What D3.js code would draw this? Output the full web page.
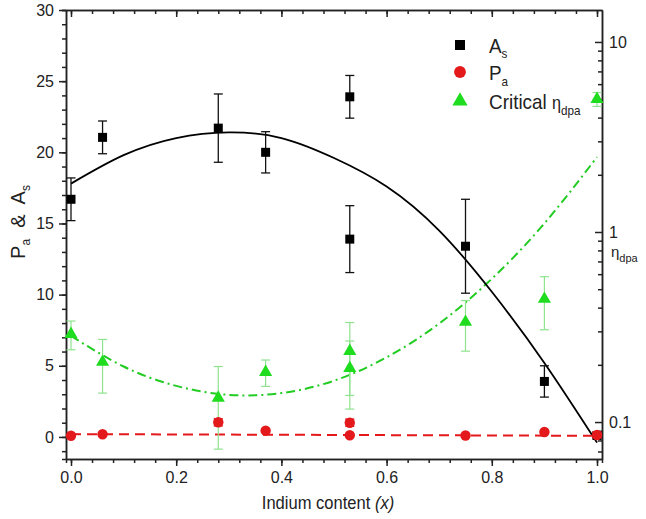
<!DOCTYPE html>
<html>
<head>
<meta charset="utf-8">
<script src="https://cdn.jsdelivr.net/npm/d3@7"></script>
<style>
  body { margin: 0; background: #fff; }
  text { font-family: "Liberation Sans", Arial, sans-serif; }
</style>
</head>
<body>
<svg id="chart"></svg>
<script>
// indium content of each sample
const indium = [0, 0.06, 0.28, 0.37, 0.53, 0.53, 0.75, 0.9, 1.0];
// A_s (left axis)
const asVals = [16.7, 21.05, 21.7, 20.0, 23.9, 13.9, 13.4, 3.9, 0.1];
const asErr  = [1.5, 1.15, 2.4, 1.45, 1.5, 2.35, 3.3, 1.1, 0.2];
// P_a (left axis)
const paVals = [0.08, 0.19, 1.03, 0.44, 1.0, 0.12, 0.1, 0.35, 0.14];
const paErr  = [0, 0, 0.25, 0, 0.25, 0, 0, 0, 0.2];
// critical eta_dpa (right log axis)
const etaVals = [0.29, 0.207, 0.134, 0.183, 0.236, 0.192, 0.336, 0.444, 5.0];
const etaErr  = [0.05, 0.065, 0.062, 0.029, 0.098, 0.075, 0.10, 0.138, 0.42];

// fitted curves
const fitX   = [0, 0.1, 0.2, 0.3, 0.4, 0.5, 0.6, 0.7, 0.8, 0.9, 1.0];
const asFit  = [17.8, 19.8, 21.0, 21.4, 21.0, 19.6, 17.6, 14.5, 10.2, 5.2, -0.4];
const etaFit = [0.284, 0.196, 0.155, 0.139, 0.142, 0.165, 0.219, 0.330, 0.567, 1.11, 2.48];
const paFitX = [0, 1.0];
const paFit  = [0.2, 0.08];

const leftTicks = [0, 5, 10, 15, 20, 25, 30];
const bottomTicks = [0, 0.2, 0.4, 0.6, 0.8, 1.0];
const rightTicks = [0.1, 1, 10];

const width = 646, height = 519;
const svg = d3.select("#chart").attr("width", width).attr("height", height);

const x  = d3.scaleLinear([-0.0095, 1.0095], [66, 602]);
const y  = d3.scaleLinear([-1.55, 30], [459, 10]);
const yr = d3.scaleLog([0.0639, 14.73], [459, 10]);

const ink = "#222";
const style = g => {
  g.selectAll("path, line").attr("stroke", ink).attr("stroke-width", 1.5);
  g.selectAll("text").attr("font-size", 16).attr("fill", ink)
   .attr("font-family", "Liberation Sans, Arial, sans-serif");
};

// minor ticks
const minorX = d3.range(0, 26).map(i => i * 0.04);
const minorY = d3.range(-1, 31);
const minorR = [];
[0.01, 0.1, 1].forEach(d => d3.range(2, 10).forEach(k => {
  const v = d * k;
  if (v >= 0.0639 && v <= 14.73) minorR.push(v);
}));

svg.append("g").attr("transform", "translate(0,459)")
   .call(d3.axisBottom(x).tickValues(minorX).tickSize(4).tickFormat(""))
   .call(style);
svg.append("g").attr("transform", "translate(0,459)")
   .call(d3.axisBottom(x).tickValues(bottomTicks).tickSizeInner(7).tickSizeOuter(0)
         .tickPadding(6).tickFormat(d3.format(".1f")))
   .call(style);

svg.append("g").attr("transform", "translate(0,10)")
   .call(d3.axisTop(x).tickValues(minorX).tickSizeInner(-4).tickSizeOuter(0).tickFormat(""))
   .call(style);
svg.append("g").attr("transform", "translate(0,10)")
   .call(d3.axisTop(x).tickValues(bottomTicks).tickSizeInner(-7).tickSizeOuter(0).tickFormat(""))
   .call(style);

svg.append("g").attr("transform", "translate(66,0)")
   .call(d3.axisLeft(y).tickValues(minorY).tickSize(4).tickFormat(""))
   .call(style);
svg.append("g").attr("transform", "translate(66,0)")
   .call(d3.axisLeft(y).tickValues(leftTicks).tickSizeInner(7).tickSizeOuter(0).tickPadding(5))
   .call(style);

svg.append("g").attr("transform", "translate(602,0)")
   .call(d3.axisRight(yr).tickValues(minorR).tickSizeInner(-4).tickSizeOuter(0).tickFormat(""))
   .call(style);
svg.append("g").attr("transform", "translate(602,0)")
   .call(d3.axisRight(yr).tickValues(rightTicks).tickSizeInner(-7).tickSizeOuter(0)
         .tickPadding(7).tickFormat(d => String(d)))
   .call(style);

// fits
const green = "#1fdc1f", red = "#e3191c";
svg.append("path")
   .datum(fitX.map((v, i) => [v, etaFit[i]]))
   .attr("fill", "none").attr("stroke", "#22cc22").attr("stroke-width", 2)
   .attr("stroke-dasharray", "9,4,2,4")
   .attr("d", d3.line(d => x(d[0]), d => yr(d[1])).curve(d3.curveNatural));
svg.append("path")
   .datum(fitX.map((v, i) => [v, asFit[i]]))
   .attr("fill", "none").attr("stroke", "#000").attr("stroke-width", 1.8)
   .attr("d", d3.line(d => x(d[0]), d => y(d[1])).curve(d3.curveNatural));
svg.append("path")
   .datum(paFitX.map((v, i) => [v, paFit[i]]))
   .attr("fill", "none").attr("stroke", red).attr("stroke-width", 2)
   .attr("stroke-dasharray", "10,6")
   .attr("d", d3.line(d => x(d[0]), d => y(d[1])));

// error bars
function errBars(vals, errs, scale, color, sw, cap) {
  const g = svg.append("g").attr("stroke", color).attr("stroke-width", sw);
  vals.forEach((v, i) => {
    if (!errs[i]) return;
    const cx = x(indium[i]), y1 = scale(v - errs[i]), y2 = scale(v + errs[i]);
    g.append("line").attr("x1", cx).attr("x2", cx).attr("y1", y1).attr("y2", y2);
    [y1, y2].forEach(yy => g.append("line")
      .attr("x1", cx - cap).attr("x2", cx + cap).attr("y1", yy).attr("y2", yy));
  });
}
function marks(vals, scale, type, size, color) {
  svg.append("g").selectAll("path").data(vals).join("path")
     .attr("transform", (d, i) => `translate(${x(indium[i])},${scale(d)})`)
     .attr("d", d3.symbol(type, size))
     .attr("fill", color);
}

errBars(etaVals, etaErr, yr, "#8fe38f", 1.2, 4.5);
marks(etaVals, yr, d3.symbolTriangle, 75, green);
errBars(asVals, asErr, y, "#111", 1.3, 4.5);
marks(asVals, y, d3.symbolSquare, 81, "#000");
errBars(paVals, paErr, y, red, 1.5, 4.5);
marks(paVals, y, d3.symbolCircle, 85, red);

// text helper with sub-scripts
function rich(px, py, parts, opts = {}) {
  const g = svg.append("g")
    .attr("transform", `translate(${px},${py}) rotate(${opts.rotate || 0}) scale(${opts.sx || 1},1)`);
  const t = g.append("text").attr("fill", ink).attr("text-anchor", opts.anchor || "start")
    .attr("xml:space", "preserve");
  parts.forEach(p => {
    const s = t.append("tspan").attr("font-size", p.size).text(p.t);
    if (p.dy) s.attr("dy", p.dy);
    if (p.italic) s.attr("font-style", "italic");
  });
  return t;
}

// legend
const legend = [
  { y: 45, type: d3.symbolSquare, size: 100, color: "#000" },
  { y: 72, type: d3.symbolCircle, size: 110, color: red },
  { y: 101, type: d3.symbolTriangle, size: 100, color: green }
];
legend.forEach(l => svg.append("path")
  .attr("transform", `translate(460,${l.y})`)
  .attr("d", d3.symbol(l.type, l.size)).attr("fill", l.color));
rich(489, 53, [{ t: "A", size: 21 }, { t: "s", size: 13, dy: 5 }], { sx: 0.9 });
rich(489, 80, [{ t: "P", size: 21 }, { t: "a", size: 13, dy: 6 }], { sx: 0.9 });
rich(489, 109, [{ t: "Critical ", size: 21 }, { t: "η", size: 18 },
                { t: "dpa", size: 13, dy: 6 }], { sx: 0.9 });

// axis titles
rich(328, 509, [{ t: "Indium content ", size: 18 }, { t: "(x)", size: 18, italic: true }],
     { anchor: "middle", sx: 0.92 });
rich(25, 222, [{ t: "P", size: 20 }, { t: "a", size: 12, dy: 5 }, { t: "  &  ", size: 20, dy: -5 },
               { t: "A", size: 20 }, { t: "s", size: 12, dy: 5 }],
     { anchor: "middle", rotate: -90, sx: 1 });
rich(611, 257, [{ t: "η", size: 15 }, { t: "dpa", size: 11, dy: 5 }]);
</script>
</body>
</html>
